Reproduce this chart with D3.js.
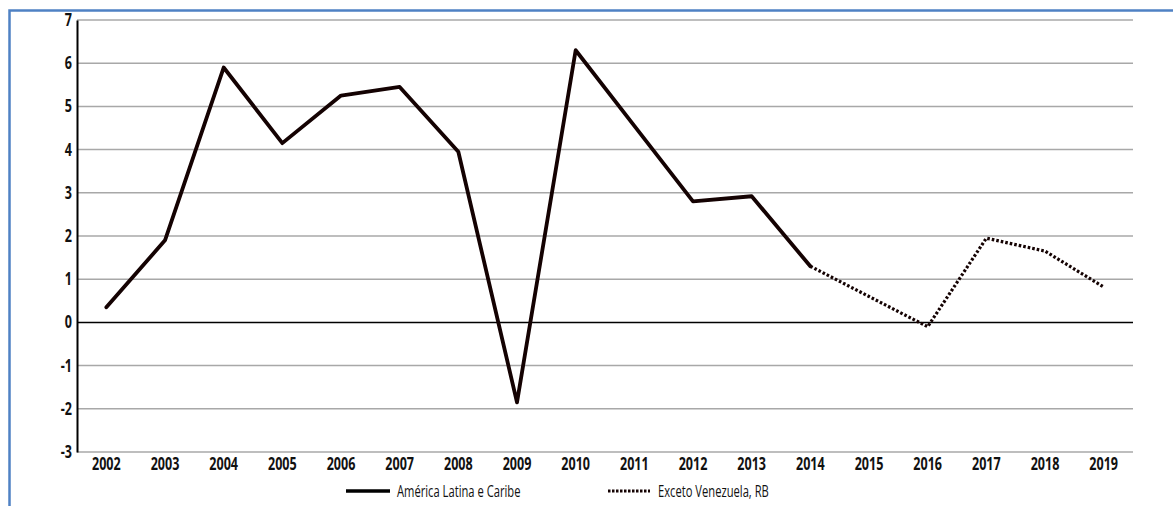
<!DOCTYPE html>
<html>
<head>
<meta charset="utf-8">
<script src="https://cdn.jsdelivr.net/npm/d3@7"></script>
<style>
  html, body { margin: 0; padding: 0; background: #fff; }
  svg { display: block; }
  text { font-family: "Liberation Sans Narrow", "Open Sans", "DejaVu Sans", sans-serif; font-weight: bold; fill: #111; }
</style>
</head>
<body>
<svg id="chart" width="1173" height="506"></svg>
<script>
const years = ["2002","2003","2004","2005","2006","2007","2008","2009","2010","2011","2012","2013","2014","2015","2016","2017","2018","2019"];
const latamValues = [0.35, 1.9, 5.9, 4.15, 5.25, 5.45, 3.95, -1.85, 6.3, 4.55, 2.8, 2.92, 1.3, null, null, null, null, null];
const exVenValues = [null, null, null, null, null, null, null, null, null, null, null, null, 1.3, 0.6, -0.1, 1.95, 1.65, 0.82];
const yTicks = [-3, -2, -1, 0, 1, 2, 3, 4, 5, 6, 7];
const seriesNames = ["América Latina e Caribe", "Exceto Venezuela, RB"];

const svg = d3.select("#chart");
const W = 1173, H = 506;
const m = { left: 77, right: 40, top: 20, bottom: 54 };
const SX = 0.74;

// frame border
svg.append("path")
  .attr("d", `M9.5,${H} L9.5,10.5 L${W},10.5`)
  .attr("fill", "none").attr("stroke", "#4f81c4").attr("stroke-width", 2.5);

const x = d3.scaleBand().domain(years).range([m.left, W - m.right]).paddingInner(0).paddingOuter(0);
const y = d3.scaleLinear().domain([-3, 7]).range([H - m.bottom, m.top]);

// gridlines
svg.append("g").selectAll("line").data(yTicks.filter(d => d !== 0)).join("line")
  .attr("x1", m.left).attr("x2", W - m.right)
  .attr("y1", d => y(d)).attr("y2", d => y(d))
  .attr("stroke", "#a8a8a8").attr("stroke-width", 1.5);

// zero line
svg.append("line")
  .attr("x1", m.left).attr("x2", W - m.right)
  .attr("y1", y(0)).attr("y2", y(0))
  .attr("stroke", "#000").attr("stroke-width", 1.5);

// y axis
const yAxis = d3.axisLeft(y).tickValues(yTicks).tickSize(0).tickPadding(0).tickFormat(d => String(d));
const ga = svg.append("g").attr("transform", `translate(${m.left},0)`).call(yAxis);
ga.select(".domain").attr("stroke", "#000").attr("stroke-width", 2);
ga.selectAll("text").style("font-size", "17px").style("font-family", null)
  .attr("x", -5 / SX).attr("transform", `scale(${SX},1)`);

// x axis labels
const xAxis = d3.axisBottom(x).tickSize(0).tickPadding(6);
const gx = svg.append("g").attr("transform", `translate(0,${y(-3)})`).call(xAxis);
gx.select(".domain").remove();
gx.selectAll("text").style("font-size", "17px").style("font-family", null)
  .attr("transform", `scale(${SX},1)`);

const line = d3.line()
  .defined(d => d.v !== null)
  .x(d => x(d.year) + x.bandwidth() / 2)
  .y(d => y(d.v));

const latam = years.map((yr, i) => ({ year: yr, v: latamValues[i] }));
const exVen = years.map((yr, i) => ({ year: yr, v: exVenValues[i] }));

svg.append("path").datum(latam).attr("d", line)
  .attr("fill", "none").attr("stroke", "#140202").attr("stroke-width", 3.8)
  .attr("stroke-linejoin", "round").attr("stroke-linecap", "round");

svg.append("path").datum(exVen).attr("d", line)
  .attr("fill", "none").attr("stroke", "#140202").attr("stroke-width", 3.2)
  .attr("stroke-dasharray", "2.6,2");

// legend
const lg = svg.append("g");
lg.append("line").attr("x1", 346).attr("x2", 390).attr("y1", 491).attr("y2", 491)
  .attr("stroke", "#000").attr("stroke-width", 3.5);
lg.append("text").attr("transform", `translate(397,496.5) scale(0.7,1)`)
  .style("font-size", "16px").style("font-weight", "normal").text(seriesNames[0]);
lg.append("line").attr("x1", 608).attr("x2", 650).attr("y1", 491).attr("y2", 491)
  .attr("stroke", "#140202").attr("stroke-width", 3).attr("stroke-dasharray", "2.5,1.5");
lg.append("text").attr("transform", `translate(658,496.5) scale(0.7,1)`)
  .style("font-size", "16px").style("font-weight", "normal").text(seriesNames[1]);
</script>
</body>
</html>
